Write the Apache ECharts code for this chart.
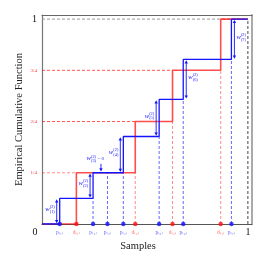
<!DOCTYPE html>
<html><head><meta charset="utf-8">
<script src="https://cdn.jsdelivr.net/npm/echarts@6/dist/echarts.min.js"></script>
<style>html,body{margin:0;padding:0;background:#fff}#c{width:267px;height:267px}</style>
</head><body><div id="c"></div>
<script>
// ---- data ----
const pPos = [0.086, 0.248, 0.318, 0.395, 0.569, 0.686, 0.920];
const pLabels = ['p₍₁₎','p₍₂₎','p₍₃₎','p₍₄₎','p₍₅₎','p₍₆₎','p₍₇₎'];
const blueLevels = [0.125, 0.25, 0.25, 0.427, 0.608, 0.803, 1.0];
const dPos = [0.167, 0.453, 0.634, 0.868];
const dLabels = ['d₍₁₎','d₍₂₎','d₍₃₎','d₍₄₎'];
const redLevels = [0.25, 0.5, 0.75, 1.0];
const weightSup = ['(2)','(2)','(2)','(2)','(2)','(2)','(2)'];
const weightSub = ['(1)','(2)','(3)','(4)','(5)','(6)','(7)'];
const weightSide = ['left','left','top','left','left','right','right'];
const yTickValues = [0.25, 0.5, 0.75, 1];
const yTickLabels = ['1/4','2/4','3/4','1'];
const xTickValues = [0, 1];
const xTickLabels = ['0','1'];

// ---- chart ----
const SERIF = "'Liberation Serif','DejaVu Serif',serif";
const BLUE = '#1414ff';
const chart = echarts.init(document.getElementById('c'), null, {renderer:'canvas'});

function segSeries(data, color, width, dash, z){
  return {type:'custom', data, z, silent:true, clip:false, encode:{x:[0,2], y:[1,3]},
    renderItem:(params, api)=>{
      const a = api.coord([api.value(0), api.value(1)]);
      const b = api.coord([api.value(2), api.value(3)]);
      return {type:'line', shape:{x1:a[0],y1:a[1],x2:b[0],y2:b[1]},
        style:{stroke:color, lineWidth:width, lineDash:dash, fill:null}};
    }};
}

const segBlueDash = pPos.slice(1).map((x,i)=>[x,0,x,blueLevels[i]]);
const segRedDashV = dPos.slice(1).map((x,i)=>[x,0,x,redLevels[i]]);
const segRedDashH1 = [[0,redLevels[0],dPos[0],redLevels[0]]];
const segRedDashH = dPos.slice(1,3).map((x,i)=>[0,redLevels[i+1],x,redLevels[i+1]]);
const segGray = [[0,1,1,1]];
const segBlack = [[1,0,1,1]];

const redStep = [[0,0]].concat(dPos.map((x,i)=>[x,redLevels[i]]), [[1,1]]);
const blueStep = [[0,0]].concat(pPos.map((x,i)=>[x,blueLevels[i]]), [[1,1]]);
const arrowData = pPos.map((x,i)=>[x, i===0?0:blueLevels[i-1], blueLevels[i], i]);

function tri(x, y, dir){ // dir -1 up tip, +1 down tip
  const h = 3.2, w = 1.7;
  return {type:'polygon', shape:{points:[[x,y],[x-w,y-dir*h],[x+w,y-dir*h]]}, style:{fill:BLUE}};
}
function wLabel(x, y, i, align, extra){
  const kids = [];
  const wW = 4.5, sW = 5.5;
  let x0 = align==='right' ? x - sW - wW : x;
  kids.push({type:'text', style:{text:'w', x:x0, y:y, fill:BLUE, fontSize:6.5, fontFamily:SERIF, fontStyle:'italic', align:'left', verticalAlign:'middle'}});
  kids.push({type:'text', style:{text:weightSup[i]+'\n'+weightSub[i], x:x0+wW, y:y, fill:BLUE, fontSize:4.3, lineHeight:4.6, fontFamily:SERIF, align:'left', verticalAlign:'middle'}});
  if (extra) kids.push({type:'text', style:{text:extra, x:x0+wW+sW+1, y:y, fill:BLUE, fontSize:5, fontFamily:SERIF, align:'left', verticalAlign:'middle'}});
  return kids;
}

const arrowSeries = {type:'custom', data:arrowData, z:6, silent:true, clip:false, encode:{x:0, y:[1,2]},
  renderItem:(params, api)=>{
    const i = api.value(3);
    const p0 = api.coord([api.value(0), api.value(1)]);
    const p1 = api.coord([api.value(0), api.value(2)]);
    const side = weightSide[i];
    let children = [];
    if (side === 'top') {
      const ax = p0[0]-6.5, yb = p0[1]-1.2, yt = p0[1]-9;
      children.push({type:'line', shape:{x1:ax,y1:yt,x2:ax,y2:yb-2.5}, style:{stroke:BLUE, lineWidth:0.9}});
      children.push(tri(ax, yb, 1));
      children = children.concat(wLabel(p0[0]-21, p0[1]-14, i, 'left', '= 0'));
    } else {
      const ax = side==='left' ? p0[0]-3 : p0[0]+3;
      const yTop = p1[1]+0.8, yBot = p0[1]-0.8;
      children.push({type:'line', shape:{x1:ax,y1:yTop+2.5,x2:ax,y2:yBot-2.5}, style:{stroke:BLUE, lineWidth:0.9}});
      children.push(tri(ax, yTop, -1));
      children.push(tri(ax, yBot, 1));
      const my = (yTop+yBot)/2 - 2;
      children = children.concat(side==='left' ? wLabel(ax-1.5, my, i, 'right') : wLabel(ax+2, my, i, 'left'));
    }
    return {type:'group', children};
  }};

const option = {
  animation:false,
  grid:{left:42, top:15, right:15, bottom:43, containLabel:false, outerBoundsMode:'none'},
  xAxis:[{type:'value', min:0, max:1.02, position:'bottom',
      axisLine:{show:true, onZero:false, lineStyle:{color:'#555', width:1}},
      axisTick:{show:false}, splitLine:{show:false},
      axisLabel:{customValues:xTickValues, margin:3, color:'#111', fontFamily:SERIF, fontSize:10,
        formatter:v=>{const k=xTickValues.indexOf(v); return k===0?'{z|'+xTickLabels[k]+'}':'{o|'+xTickLabels[k]+'}';},
        rich:{z:{padding:[0,14,0,0], fontFamily:SERIF, fontSize:10, color:'#111'}, o:{fontFamily:SERIF, fontSize:10, color:'#111'}}},
      name:'Samples', nameLocation:'middle', nameGap:17, nameMoveOverlap:false,
      nameTextStyle:{fontFamily:SERIF, fontSize:10.5, color:'#222', padding:[0,18,0,0]}},
    {type:'value', min:0, max:1.02, position:'top',
      axisLine:{show:true, onZero:false, lineStyle:{color:'#666', width:1}},
      axisTick:{show:false}, axisLabel:{show:false}, splitLine:{show:false}}],
  yAxis:[{type:'value', min:0, max:1.02, position:'left',
      axisLine:{show:true, onZero:false, lineStyle:{color:'#777', width:1.2}},
      axisTick:{show:false}, splitLine:{show:false},
      axisLabel:{customValues:yTickValues, margin:5,
        formatter:v=>{const k=yTickValues.indexOf(v); return (v===1?'{k|':'{r|')+yTickLabels[k]+'}';},
        rich:{k:{fontFamily:SERIF, fontSize:10, color:'#111'}, r:{fontFamily:SERIF, fontSize:5, color:'#ff4040'}}},
      name:'Empirical Cumulative Function', nameLocation:'middle', nameGap:17, nameMoveOverlap:false,
      nameTextStyle:{fontFamily:SERIF, fontSize:10.5, color:'#222'}},
    {type:'value', min:0, max:1.02, position:'right',
      axisLine:{show:true, onZero:false, lineStyle:{color:'#aaa', width:2}},
      axisTick:{show:false}, axisLabel:{show:false}, splitLine:{show:false}}],
  series:[
    segSeries(segGray, '#999', 1, [3,2], 1),
    segSeries(segBlack, '#333', 0.9, [3,2], 1),
    segSeries(segRedDashH1, 'rgba(255,0,0,0.45)', 1, [3,2], 1),
    segSeries(segRedDashH, 'rgba(255,0,0,0.75)', 0.9, [3,2], 1),
    segSeries(segRedDashV, 'rgba(255,0,0,0.45)', 1, [3,2], 1),
    segSeries(segBlueDash, 'rgba(0,0,255,0.6)', 1, [3,2], 1),
    {type:'line', data:redStep, step:'end', showSymbol:false, silent:true, z:3,
      lineStyle:{color:'rgba(255,0,0,0.7)', width:1.6}},
    {type:'line', data:blueStep, step:'end', showSymbol:false, silent:true, z:4,
      lineStyle:{color:BLUE, width:1.3}},
    arrowSeries,
    {type:'scatter', z:8, symbol:'circle', symbolSize:4.5, silent:true,
      data:dPos.map((x,i)=>({name:dLabels[i], value:[x,0]})),
      itemStyle:{color:'#ff1010'},
      label:{show:true, position:'bottom', distance:3, formatter:'{b}', color:'#ff4040', fontSize:5.5, fontFamily:SERIF}},
    {type:'scatter', z:9, symbol:'circle', symbolSize:4.5, silent:true,
      data:pPos.map((x,i)=>({name:pLabels[i], value:[x,0]})),
      itemStyle:{color:BLUE},
      label:{show:true, position:'bottom', distance:3, formatter:'{b}', color:'#3a3aff', fontSize:5.5, fontFamily:SERIF}}
  ]
};
chart.setOption(option);
</script></body></html>
